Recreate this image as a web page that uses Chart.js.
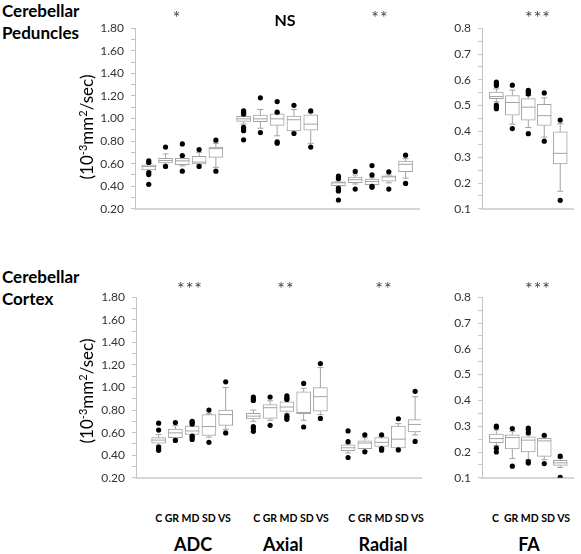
<!DOCTYPE html>
<html>
<head>
<meta charset="utf-8">
<script src="https://cdn.jsdelivr.net/npm/chart.js@4.4.0/dist/chart.umd.min.js"></script>
<style>
body { margin: 0; background: #fff; }
#page { position: relative; width: 581px; height: 554px; overflow: hidden; font-family: Lato, sans-serif; color: #000; }
canvas { position: absolute; }
.lbl { position: absolute; transform: translate(-50%, -50%); white-space: nowrap; line-height: 1; }
.title { position: absolute; font-weight: bold; font-size: 17px; line-height: 22px; }
.star { font-size: 18px; color: #444; letter-spacing: 1px; }
.ns { font-size: 16px; font-weight: bold; }
.cats { font-size: 10.5px; font-weight: bold; }
.group { font-size: 18px; font-weight: bold; }
.ytitle { font-size: 17px; transform: translate(-50%, -50%) rotate(-90deg); }
.ytitle sup { font-size: 11px; vertical-align: 6px; line-height: 0; }
</style>
</head>
<body>
<div id="page">
  <canvas id="ped-diff" width="332" height="209" style="left:95px;top:14px"></canvas>
  <canvas id="ped-fa" width="139" height="209" style="left:442px;top:14px"></canvas>
  <canvas id="ctx-diff" width="333" height="209" style="left:96px;top:283px"></canvas>
  <canvas id="ctx-fa" width="139" height="209" style="left:442px;top:283px"></canvas>

  <div class="title" style="left:2px;top:0px">Cerebellar<br>Peduncles</div>
  <div class="title" style="left:2px;top:266px">Cerebellar<br>Cortex</div>

  <div class="lbl ytitle" style="left:86px;top:127px">(10<sup>-3</sup>mm<sup>2</sup>/sec)</div>
  <div class="lbl ytitle" style="left:86px;top:391px">(10<sup>-3</sup>mm<sup>2</sup>/sec)</div>

  <div class="lbl star" style="left:177px;top:17px">*</div>
  <div class="lbl ns" style="left:285px;top:20px">NS</div>
  <div class="lbl star" style="left:380px;top:17px">**</div>
  <div class="lbl star" style="left:538px;top:17px">***</div>
  <div class="lbl star" style="left:190px;top:288px">***</div>
  <div class="lbl star" style="left:286px;top:288px">**</div>
  <div class="lbl star" style="left:384px;top:288px">**</div>
  <div class="lbl star" style="left:538px;top:288px">***</div>

  <div class="lbl cats" style="left:193px;top:518px">C GR MD SD VS</div>
  <div class="lbl cats" style="left:291px;top:518px">C GR MD SD VS</div>
  <div class="lbl cats" style="left:386px;top:518px">C GR MD SD VS</div>
  <div class="lbl cats" style="left:531px;top:518px">C&nbsp; GR MD SD VS</div>

  <div class="lbl group" style="left:193px;top:544px">ADC</div>
  <div class="lbl group" style="left:283px;top:544px">Axial</div>
  <div class="lbl group" style="left:383px;top:544px">Radial</div>
  <div class="lbl group" style="left:529px;top:544px">FA</div>
</div>
<script>
// groups: C, GR, MD, SD, VS — repeated for ADC, Axial, Radial
const groups = ['C', 'GR', 'MD', 'SD', 'VS'];
const measures = ['ADC', 'Axial', 'Radial'];

const diffTicks = [0.2, 0.3, 0.4, 0.5, 0.6, 0.7, 0.8, 0.9, 1.0, 1.1, 1.2, 1.3, 1.4, 1.5, 1.6, 1.7, 1.8];
const faTicks = [0.1, 0.15, 0.2, 0.25, 0.3, 0.35, 0.4, 0.45, 0.5, 0.55, 0.6, 0.65, 0.7, 0.75, 0.8];

// Cerebellar peduncles - ADC, Axial, Radial
const pedLow = [0.53, 0.59, 0.58, 0.59, 0.567, 0.95, 0.914, 0.847, 0.88, 0.78, 0.40, 0.42, 0.405, 0.43, 0.472];
const pedQ1 = [0.545, 0.606, 0.59, 0.597, 0.656, 0.975, 0.972, 0.939, 0.889, 0.897, 0.406, 0.431, 0.414, 0.444, 0.528];
const pedMedian = [0.575, 0.628, 0.625, 0.614, 0.733, 0.997, 0.997, 0.997, 0.989, 0.95, 0.43, 0.458, 0.442, 0.483, 0.594];
const pedQ3 = [0.59, 0.647, 0.647, 0.664, 0.747, 1.019, 1.03, 1.042, 1.022, 1.033, 0.439, 0.481, 0.464, 0.492, 0.622];
const pedHigh = [0.60, 0.686, 0.66, 0.70, 0.78, 1.03, 1.08, 1.045, 1.08, 1.05, 0.445, 0.50, 0.475, 0.50, 0.644];
const pedOutliers = [
    [0.625, 0.61, 0.52, 0.503, 0.417], [0.747, 0.575], [0.775, 0.672, 0.533], [0.725, 0.575], [0.808, 0.533],
    [1.067, 1.053, 1.039, 0.922, 0.908, 0.892, 0.811], [1.183, 0.875], [1.15, 1.056, 0.794, 0.781], [1.117, 0.867], [1.067, 0.747],
    [0.489, 0.469, 0.381, 0.367, 0.358, 0.278], [0.531, 0.375], [0.583, 0.50, 0.40, 0.39], [0.528, 0.375], [0.675, 0.425]
];

// Cerebellar peduncles - FA
const pedFaLow = [0.515, 0.428, 0.415, 0.378, 0.168];
const pedFaQ1 = [0.527, 0.463, 0.444, 0.423, 0.274];
const pedFaMedian = [0.535, 0.512, 0.494, 0.461, 0.315];
const pedFaQ3 = [0.552, 0.539, 0.527, 0.505, 0.398];
const pedFaHigh = [0.565, 0.56, 0.54, 0.53, 0.43];
const pedFaOutliers = [[0.591, 0.585, 0.578, 0.502, 0.495, 0.488], [0.579, 0.411], [0.559, 0.552, 0.545, 0.391], [0.549, 0.362], [0.444, 0.133]];

// Cerebellar cortex - ADC, Axial, Radial
const ctxLow = [0.49, 0.545, 0.58, 0.56, 0.63, 0.70, 0.71, 0.77, 0.71, 0.76, 0.42, 0.44, 0.465, 0.455, 0.58];
const ctxQ1 = [0.506, 0.556, 0.584, 0.575, 0.665, 0.721, 0.726, 0.788, 0.768, 0.79, 0.441, 0.458, 0.478, 0.464, 0.606];
const ctxMedian = [0.534, 0.598, 0.615, 0.654, 0.76, 0.746, 0.821, 0.827, 0.779, 0.919, 0.466, 0.508, 0.514, 0.542, 0.673];
const ctxQ3 = [0.556, 0.631, 0.659, 0.76, 0.80, 0.771, 0.849, 0.874, 0.961, 1.0, 0.492, 0.528, 0.556, 0.659, 0.715];
const ctxHigh = [0.584, 0.662, 0.665, 0.77, 1.0, 0.80, 0.883, 0.89, 0.994, 1.176, 0.50, 0.556, 0.565, 0.68, 0.919];
const ctxOutliers = [
    [0.684, 0.623, 0.472, 0.455, 0.443], [0.69, 0.531], [0.70, 0.687, 0.676, 0.57, 0.56, 0.54], [0.80, 0.514], [1.05, 0.598],
    [0.916, 0.90, 0.885, 0.654, 0.637, 0.612], [0.916, 0.665], [0.925, 0.91, 0.894, 0.749, 0.735, 0.718], [1.036, 0.65], [1.212, 0.726],
    [0.615, 0.52, 0.38], [0.581, 0.43], [0.581, 0.458, 0.444], [0.723, 0.447], [0.966, 0.522]
];

// Cerebellar cortex - FA
const ctxFaLow = [0.225, 0.175, 0.17, 0.17, 0.14];
const ctxFaQ1 = [0.236, 0.212, 0.20, 0.183, 0.148];
const ctxFaMedian = [0.252, 0.256, 0.246, 0.243, 0.158];
const ctxFaQ3 = [0.269, 0.267, 0.259, 0.253, 0.168];
const ctxFaHigh = [0.285, 0.28, 0.265, 0.258, 0.175];
const ctxFaOutliers = [[0.30, 0.296, 0.215, 0.20], [0.291, 0.145], [0.293, 0.287, 0.275, 0.163, 0.157], [0.265, 0.155], [0.184, 0.102]];

const GROUP_GAP = 5.65;
const boxColor = '#a3a3a3';

// x slot of each box: 5 per group, a gap between groups
const slots = (n) => Array.from({ length: n }, (_, i) => Math.floor(i / groups.length) * GROUP_GAP + (i % groups.length));

function boxPlot(id, low, q1, median, q3, high, outliers, ticks, decimals, xMin, xMax) {
    const xs = slots(q1.length);

    const whiskers = [];
    const caps = [];
    const dots = [];
    xs.forEach((x, i) => {
        whiskers.push({ x, y: low[i] }, { x, y: q1[i] }, { x, y: null },
            { x, y: q3[i] }, { x, y: high[i] }, { x, y: null });
        caps.push({ x, y: low[i] }, { x, y: high[i] });
        outliers[i].forEach(v => dots.push({ x, y: v }));
    });

    return new Chart(document.getElementById(id), {
        type: 'scatter',
        data: {
            datasets: [{
                type: 'line',
                data: whiskers,
                borderColor: boxColor,
                borderWidth: 1,
                pointRadius: 0,
                spanGaps: false,
                order: 5
            }, {
                data: caps,
                pointStyle: 'line',
                pointRadius: 3,
                borderColor: boxColor,
                borderWidth: 1,
                order: 4
            }, {
                type: 'bar',
                data: xs.map((x, i) => ({ x, y: [q1[i], q3[i]] })),
                backgroundColor: '#ffffff',
                borderColor: boxColor,
                borderWidth: 1,
                borderSkipped: false,
                barThickness: 14,
                order: 3
            }, {
                data: xs.map((x, i) => ({ x, y: median[i] })),
                pointStyle: 'line',
                pointRadius: 7,
                borderColor: boxColor,
                borderWidth: 1,
                order: 2
            }, {
                data: dots,
                pointRadius: 2.6,
                backgroundColor: '#000',
                borderWidth: 0,
                order: 1
            }]
        },
        options: {
            responsive: false,
            animation: false,
            layout: { padding: { top: 10, bottom: 8, left: 0, right: 4 } },
            plugins: {
                legend: { display: false },
                tooltip: { enabled: false }
            },
            scales: {
                x: {
                    type: 'linear',
                    offset: false,
                    min: xMin,
                    max: xMax,
                    ticks: { display: false },
                    grid: { display: false, offset: false },
                    border: { color: '#d6d6d6', width: 2 },
                    afterFit: s => { s.height = 0; }
                },
                y: {
                    type: 'linear',
                    min: ticks[0],
                    max: ticks[ticks.length - 1],
                    afterBuildTicks: s => { s.ticks = ticks.map(v => ({ value: v })); },
                    ticks: {
                        autoSkip: false,
                        padding: 7,
                        color: '#333',
                        font: { family: 'Lato', size: 12 },
                        callback: (v, i) => i % 2 ? '' : v.toFixed(decimals)
                    },
                    grid: { drawOnChartArea: false, tickLength: 4, color: '#c4c4c4' },
                    border: { color: '#c4c4c4' },
                    afterFit: s => { s.width = 40; }
                }
            }
        }
    });
}

boxPlot('ped-diff', pedLow, pedQ1, pedMedian, pedQ3, pedHigh, pedOutliers, diffTicks, 2, -0.82, 16.1);
boxPlot('ped-fa', pedFaLow, pedFaQ1, pedFaMedian, pedFaQ3, pedFaHigh, pedFaOutliers, faTicks, 1, -0.9, 4.8);
boxPlot('ctx-diff', ctxLow, ctxQ1, ctxMedian, ctxQ3, ctxHigh, ctxOutliers, diffTicks, 2, -1.35, 15.65);
boxPlot('ctx-fa', ctxFaLow, ctxFaQ1, ctxFaMedian, ctxFaQ3, ctxFaHigh, ctxFaOutliers, faTicks, 1, -0.9, 4.8);
</script>
</body>
</html>
